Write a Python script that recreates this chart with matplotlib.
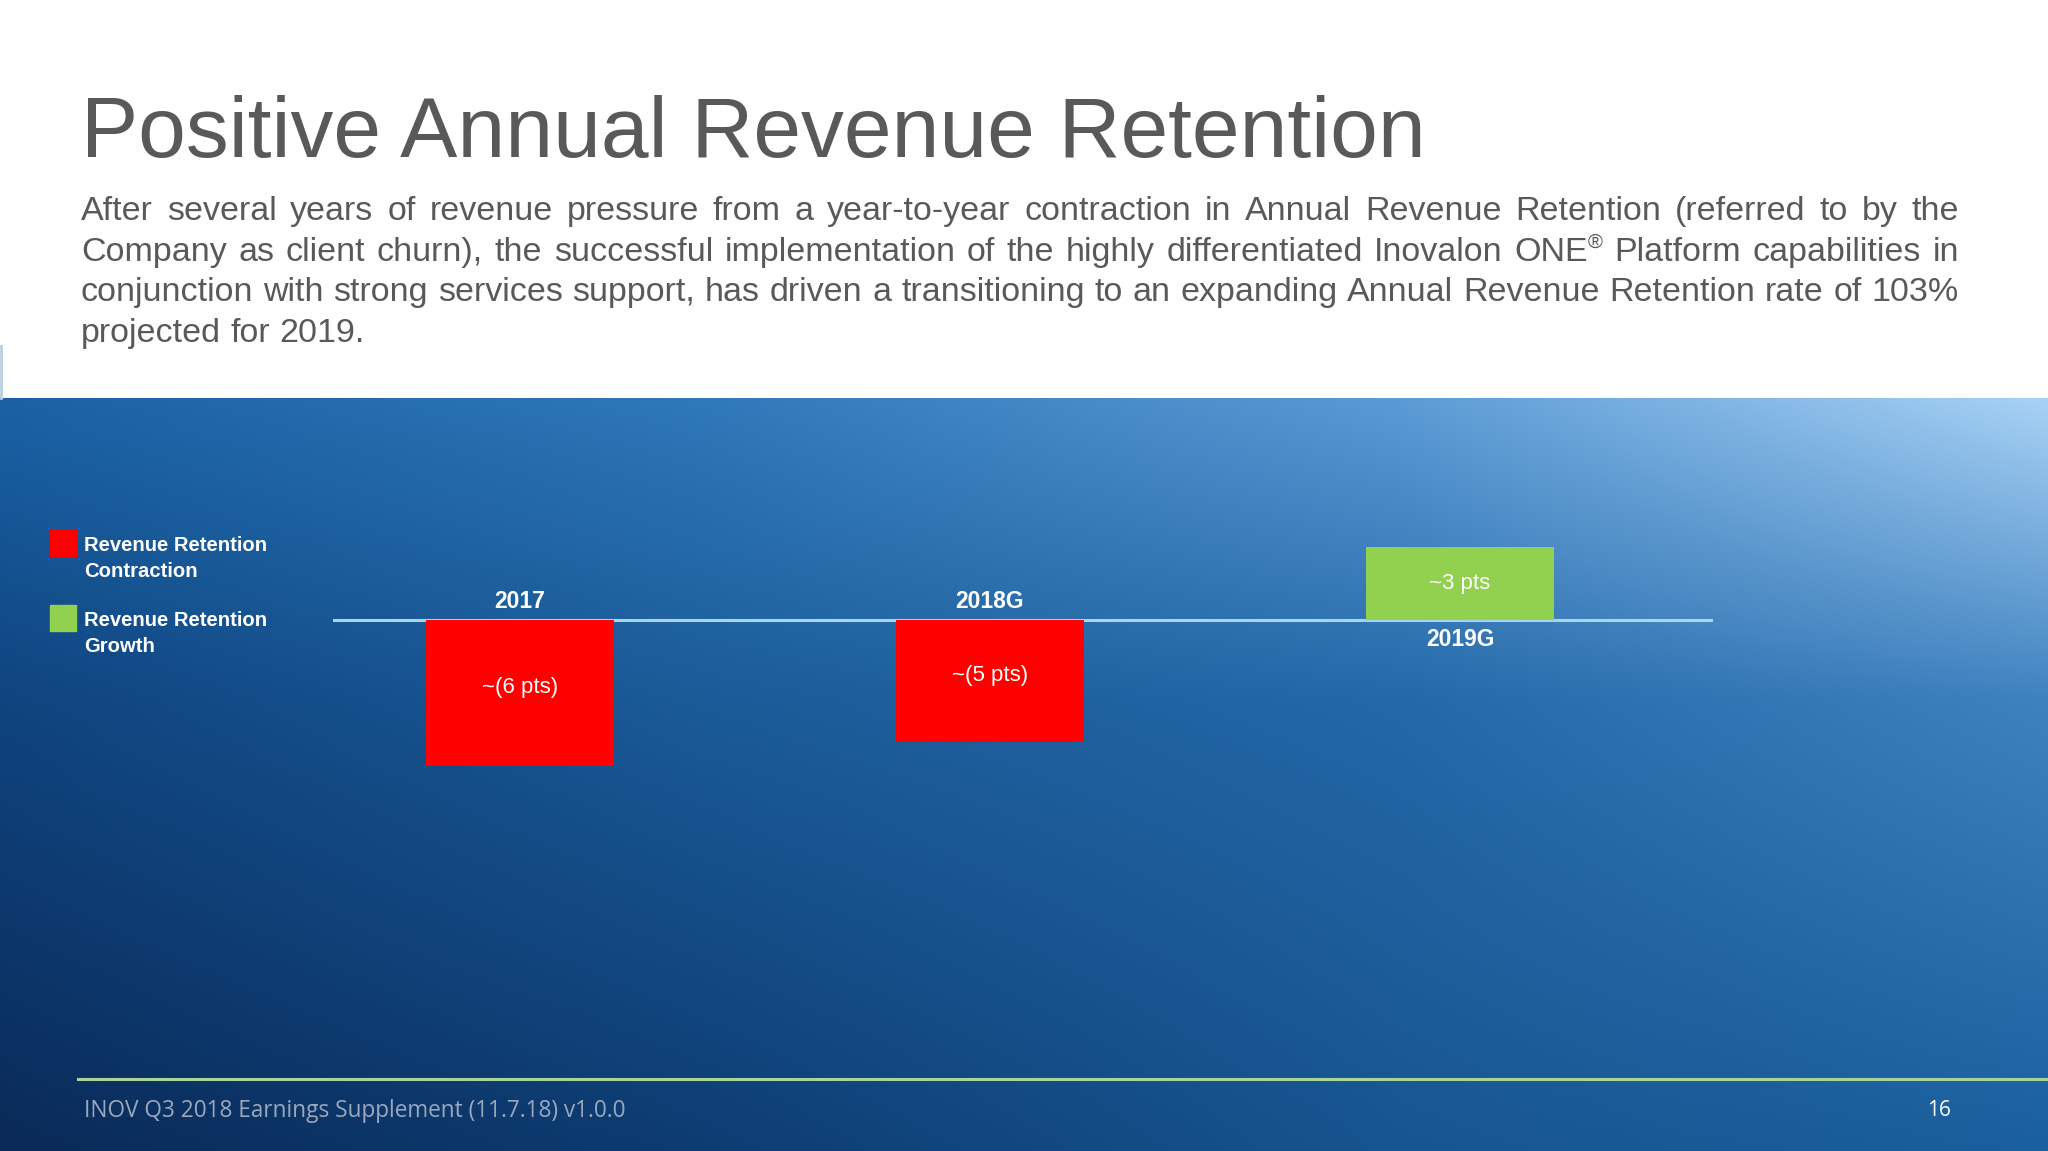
import matplotlib
matplotlib.use('Agg')
import matplotlib.pyplot as plt
import numpy as np
from matplotlib import font_manager
from matplotlib.colors import to_rgb
from matplotlib.patches import Rectangle

# ---------------- data ----------------
categories = ['2017', '2018G', '2019G']
values = [-6, -5, 3]
value_labels = ['~(6 pts)', '~(5 pts)', '~3 pts']
legend_labels = ['Revenue Retention\nContraction', 'Revenue Retention\nGrowth']
title = 'Positive Annual Revenue Retention'
body_lines = [
    'After several years of revenue pressure from a year-to-year contraction in Annual Revenue Retention (referred to by the',
    'Company as client churn), the successful implementation of the highly differentiated Inovalon ONE\u00ae Platform capabilities in',
    'conjunction with strong services support, has driven a transitioning to an expanding Annual Revenue Retention rate of 103%',
    'projected for 2019.',
]
footer = 'INOV Q3 2018 Earnings Supplement (11.7.18) v1.0.0'
page = '16'

# ---------------- fonts ----------------
names = {f.name for f in font_manager.fontManager.ttflist}
NARROW = 'Liberation Sans Narrow' if 'Liberation Sans Narrow' in names else 'Liberation Sans'
FOOT = 'Open Sans' if 'Open Sans' in names else 'DejaVu Sans'

RED = '#ff0000'
GREEN = '#92d050'
GRAY = '#595959'

W, H = 2048, 1151
fig = plt.figure(figsize=(20.48, 11.51), dpi=100)
fig.patch.set_facecolor('white')

# ---------------- background gradient ----------------
bg = fig.add_axes([0, 0, 1, 1], zorder=0)
bg.set_xlim(0, W); bg.set_ylim(H, 0); bg.axis('off')
gx = [0, 700, 1400, 2048]
gy = [398, 700, 1151]
grid = [
    ['#1a62a5', '#2f78b9', '#5b9bd5', '#a8d2f5'],
    ['#0f447f', '#1a5b98', '#2468a8', '#3f82c0'],
    ['#0a2a58', '#0d3c72', '#175590', '#1a5f9e'],
]
G = np.array([[to_rgb(c) for c in row] for row in grid])
nx, ny = 512, 200
xs = np.linspace(0, W, nx)
ys = np.linspace(398, H, ny)
rows = np.zeros((len(gy), nx, 3))
for r in range(len(gy)):
    for ch in range(3):
        rows[r, :, ch] = np.interp(xs, gx, G[r, :, ch])
img = np.zeros((ny, nx, 3))
for i in range(nx):
    for ch in range(3):
        img[:, i, ch] = np.interp(ys, gy, rows[:, i, ch])
bg.imshow(img, extent=[0, W, H, 398], aspect='auto', interpolation='bilinear')
bg.plot([1, 1], [346, 398], color='#b8d0e0', lw=2)

# ---------------- chart ----------------
ax = fig.add_axes([333 / W, 1 - 790.8 / H, 1380 / W, 268.4 / H], zorder=2)
ax.patch.set_alpha(0)
x = np.arange(len(categories))
colors = [RED if v < 0 else GREEN for v in values]
ax.bar(x, values, width=0.4, color=colors, zorder=3)
ax.axhline(0, color='#a9d4f0', lw=2.2, zorder=2)
ax.set_xlim(-0.397, 2.538)
ax.set_ylim(-7, 4)
ax.axis('off')
for i, (cat, v, lab) in enumerate(zip(categories, values, value_labels)):
    off = 13 if v < 0 else -14
    ax.annotate(cat, (i, 0), xytext=(0, off), textcoords='offset points',
                ha='center', va='center', color='white', fontsize=16.5,
                fontweight='bold', family=NARROW, zorder=5)
    ax.annotate(lab, (i, v / 2), xytext=(0, 4 if v < 0 else 0), textcoords='offset points',
                ha='center', va='center', color='white', fontsize=16,
                family=NARROW, zorder=5)

# ---------------- overlay text ----------------
ov = fig.add_axes([0, 0, 1, 1], zorder=3)
ov.set_xlim(0, W); ov.set_ylim(H, 0); ov.axis('off')
ov.patch.set_alpha(0)
renderer = fig.canvas.get_renderer()


def width_of(t):
    return t.get_window_extent(renderer).width


# title
t = ov.text(81, 157, title, fontsize=66, color=GRAY, family=NARROW, va='baseline')
w = width_of(t)
t.set_fontsize(66 * 1345 / w)

# body (justified)
BODY_FS = 24.5
left, right = 81, 1959
baselines = [220, 261, 301, 342]


def draw_word(xp, yp, word):
    if '\u00ae' in word:
        a, b = word.split('\u00ae')
        t1 = ov.text(xp, yp, a, fontsize=BODY_FS, color=GRAY, family=NARROW, va='baseline')
        w1 = width_of(t1)
        t2 = ov.text(xp + w1, yp - 13, '\u00ae', fontsize=BODY_FS * 0.6, color=GRAY,
                     family=NARROW, va='baseline')
        return [t1, t2], w1 + width_of(t2)
    t1 = ov.text(xp, yp, word, fontsize=BODY_FS, color=GRAY, family=NARROW, va='baseline')
    return [t1], width_of(t1)


for li, (line, yb) in enumerate(zip(body_lines, baselines)):
    words = line.split(' ')
    items = [draw_word(0, yb, wd) for wd in words]
    widths = [it[1] for it in items]
    sp = ov.text(0, yb, 'a a', fontsize=BODY_FS, family=NARROW)
    sp2 = ov.text(0, yb, 'aa', fontsize=BODY_FS, family=NARROW)
    space = width_of(sp) - width_of(sp2)
    sp.remove(); sp2.remove()
    if li < len(body_lines) - 1:
        gap = (right - left - sum(widths)) / (len(words) - 1)
        if gap < space * 0.6:
            scale = (right - left - space * 0.6 * (len(words) - 1)) / sum(widths)
            for txts, _ in items:
                for tt in txts:
                    tt.set_fontsize(tt.get_fontsize() * scale)
            widths = [w_ * scale for w_ in widths]
            items = [(txts, w_) for (txts, _), w_ in zip(items, widths)]
            gap = space * 0.6
    else:
        gap = space
    xp = left
    for (txts, wd) in items:
        base_x = txts[0].get_position()[0]
        for tt in txts:
            px, py = tt.get_position()
            tt.set_position((xp + (px - base_x), py))
        xp += wd + gap

# legend
leg_colors = [RED, GREEN]
leg_y = [530, 605]
for c, y0, lab in zip(leg_colors, leg_y, legend_labels):
    ov.add_patch(Rectangle((50, y0), 26, 26, color=c))
    l1, l2 = lab.split('\n')
    a = ov.text(84, y0 + 15, l1, fontsize=14, color='white', fontweight='bold',
                family=NARROW, va='center')
    a.set_fontsize(14 * 184 / width_of(a))
    ov.text(84, y0 + 41, l2, fontsize=a.get_fontsize(), color='white', fontweight='bold',
            family=NARROW, va='center')

# footer
ov.plot([78, W], [1079, 1079], color='#a6d49a', lw=2.2)
f = ov.text(84, 1111, footer, fontsize=16, color='#9aa8bd', family=FOOT, va='center')
f.set_fontsize(16 * 543 / width_of(f))
ov.text(1939, 1111, page, fontsize=15, color='white', family=FOOT, va='center', ha='center')

fig.savefig('out.png', dpi=100, facecolor='white')
